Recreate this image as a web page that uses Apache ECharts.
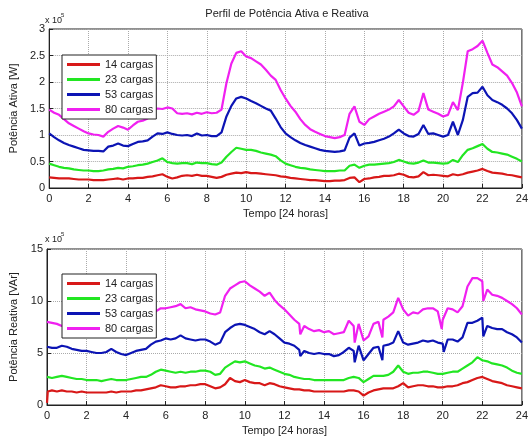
<!DOCTYPE html>
<html>
	<head>
		<meta charset="utf-8">
		<title>Perfil de Potência</title>
		<script src="https://cdn.jsdelivr.net/npm/echarts@6/dist/echarts.min.js"></script>
	</head>
	<body style="margin:0">
		<div id="main" style="width: 531px; height: 439px;"></div>
		<script>
			var nomes = ['14 cargas', '23 cargas', '53 cargas', '80 cargas'];
			var cores = ['#d81818', '#22e622', '#0c14b4', '#f020f0'];
			var passo = 0.25; // amostras a cada 15 min

			// Potência ativa (x 10^5 W)
			var pa14 = [0.20,0.19,0.18,0.18,0.18,0.17,0.16,0.16, 0.16,0.15,0.15,0.15,0.16,0.17,0.18,0.16,
				0.18,0.18,0.19,0.19,0.21,0.22,0.24,0.26, 0.21,0.18,0.20,0.23,0.24,0.23,0.25,0.23,
				0.23,0.21,0.19,0.21,0.25,0.27,0.29,0.28, 0.30,0.28,0.28,0.27,0.26,0.25,0.24,0.22,
				0.21,0.19,0.18,0.17,0.16,0.15,0.15,0.14, 0.13,0.13,0.14,0.14,0.15,0.19,0.20,0.11,
				0.17,0.18,0.20,0.21,0.23,0.23,0.24,0.27, 0.25,0.21,0.20,0.22,0.30,0.24,0.25,0.24,
				0.23,0.22,0.26,0.24,0.26,0.29,0.31,0.33, 0.36,0.32,0.29,0.28,0.27,0.25,0.24,0.22, 0.20];
			var pa23 = [0.46,0.43,0.40,0.38,0.37,0.35,0.34,0.33, 0.33,0.32,0.32,0.33,0.35,0.36,0.38,0.37,
				0.40,0.41,0.43,0.44,0.46,0.49,0.52,0.56, 0.49,0.47,0.46,0.47,0.47,0.45,0.48,0.47,
				0.47,0.45,0.44,0.48,0.59,0.68,0.76,0.74, 0.72,0.72,0.70,0.67,0.65,0.63,0.60,0.52,
				0.46,0.43,0.40,0.38,0.37,0.35,0.34,0.33, 0.32,0.32,0.32,0.33,0.33,0.42,0.44,0.38,
				0.42,0.44,0.44,0.45,0.46,0.47,0.49,0.53, 0.50,0.47,0.46,0.48,0.52,0.48,0.48,0.47,
				0.46,0.47,0.53,0.49,0.62,0.72,0.75,0.79, 0.83,0.74,0.68,0.67,0.65,0.63,0.59,0.55, 0.50];
			var pa53 = [1.03,0.96,0.90,0.85,0.81,0.78,0.75,0.72, 0.71,0.70,0.70,0.69,0.78,0.80,0.84,0.80,
				0.79,0.83,0.87,0.88,0.90,0.97,1.03,1.02, 1.05,1.02,1.00,0.99,1.00,0.98,1.03,0.99,
				1.00,0.98,0.98,1.05,1.35,1.55,1.69,1.72, 1.69,1.64,1.60,1.55,1.50,1.46,1.31,1.15,
				1.03,0.96,0.90,0.85,0.81,0.78,0.75,0.72, 0.70,0.69,0.68,0.69,0.71,0.95,1.03,0.80,
				0.84,0.85,0.87,0.90,0.93,0.97,1.03,1.10, 1.03,0.98,0.97,1.02,1.19,1.02,1.03,1.00,
				0.97,1.00,1.25,1.00,1.28,1.72,1.79,1.80, 1.91,1.75,1.66,1.62,1.57,1.50,1.41,1.28, 1.12];
			var pa80 = [1.48,1.42,1.38,1.30,1.22,1.17,1.12,1.07, 1.03,1.01,1.00,0.97,1.06,1.12,1.17,1.14,
				1.10,1.18,1.25,1.27,1.31,1.47,1.50,1.49, 1.52,1.50,1.41,1.40,1.41,1.39,1.42,1.40,
				1.43,1.41,1.42,1.48,1.98,2.35,2.55,2.58, 2.48,2.45,2.39,2.33,2.23,2.12,2.04,1.85,
				1.69,1.55,1.44,1.30,1.19,1.11,1.06,1.02, 0.98,0.96,0.94,0.96,1.00,1.40,1.54,1.25,
				1.19,1.30,1.35,1.40,1.44,1.48,1.54,1.66, 1.54,1.42,1.38,1.45,1.79,1.48,1.44,1.40,
				1.35,1.38,1.62,1.47,1.98,2.58,2.62,2.68, 2.78,2.55,2.33,2.28,2.20,2.12,1.98,1.80, 1.54];

			// Potência reativa (x 10^5 VAr)
			var qr14 = [0.2,1.4,1.3,1.4,1.3,1.3,1.2,1.3, 1.2,1.2,1.2,1.2,1.2,1.3,1.2,1.3,
				1.3,1.3,1.4,1.4,1.5,1.6,1.7,1.9, 1.8,1.7,1.7,1.8,1.8,1.9,1.9,2.0,
				2.0,1.8,1.6,1.7,2.0,2.6,2.3,2.2, 2.4,2.2,2.1,2.1,1.9,2.1,2.0,1.8,
				1.7,1.6,1.5,1.5,1.4,1.4,1.3,1.3, 1.3,1.3,1.3,1.3,1.3,1.4,1.4,1.3,
				0.9,1.2,1.4,1.5,1.6,1.6,1.6,1.8, 2.1,1.7,1.8,1.9,1.9,1.8,1.8,1.7,
				1.7,1.8,1.8,1.9,2.1,2.2,2.4,2.6, 2.7,2.5,2.3,2.2,2.1,1.9,1.8,1.7, 1.6];
			var qr23 = [2.7,2.6,2.7,2.8,2.7,2.6,2.5,2.5, 2.4,2.4,2.4,2.3,2.4,2.5,2.4,2.4,
				2.4,2.5,2.6,2.7,2.7,2.9,3.2,3.4, 3.3,3.2,3.1,3.2,3.1,3.2,3.2,3.3,
				3.3,3.2,2.9,3.0,3.6,3.9,4.2,4.1, 4.2,4.0,3.8,3.7,3.5,3.6,3.4,3.2,
				3.0,2.9,2.7,2.6,2.5,2.5,2.4,2.4, 2.4,2.4,2.4,2.4,2.4,2.6,2.7,2.6,
				2.2,2.5,2.8,2.8,2.8,2.9,3.2,3.8, 3.2,3.0,3.1,3.1,3.2,3.2,3.1,3.0,
				3.0,3.1,3.2,3.2,3.5,3.8,4.1,4.6, 4.3,4.2,4.0,3.9,3.8,3.6,3.3,3.1, 3.0];
			var qr53 = [5.6,5.5,5.5,5.7,5.6,5.4,5.3,5.2, 5.2,5.1,5.0,5.0,5.1,5.4,5.1,4.9,
				4.8,5.0,5.2,5.3,5.4,5.8,6.1,6.2, 6.4,6.3,6.4,6.7,6.4,6.3,6.2,6.3,
				6.3,6.1,5.8,6.0,7.0,7.4,7.7,7.8, 7.7,7.5,7.3,7.0,6.8,7.1,6.8,6.4,
				6.0,5.9,5.7,5.3,5.2,5.0,4.9,5.0, 4.9,4.9,4.7,4.8,5.1,5.5,5.2,5.7,
				4.3,4.9,5.5,5.6,5.7,5.8,6.0,7.1, 6.0,5.8,5.9,6.0,6.2,6.1,6.2,6.0,
				5.9,6.3,6.3,6.1,6.5,7.9,7.9,8.1, 8.4,7.6,7.4,7.3,7.3,7.0,6.8,6.5, 6.0];
			var qr80 = [8.0,7.9,7.8,7.6,7.8,7.7,7.8,7.9, 7.9,8.0,8.1,8.0,8.2,8.4,8.3,8.4,
				8.5,8.6,8.7,8.8,8.8,8.9,9.0,9.3, 9.3,9.4,9.5,9.7,9.3,9.4,9.2,9.1,
				9.0,8.8,8.7,8.9,10.5,11.2,11.5,11.8, 11.9,11.5,11.2,10.9,10.5,10.8,10.1,9.6,
				9.2,8.7,8.2,7.8,7.6,7.3,7.1,7.2, 7.0,7.1,6.8,6.9,7.0,8.1,7.6,7.8,
				6.2,6.6,7.8,8.0,8.2,8.5,8.9,10.3, 9.2,8.6,8.9,8.8,9.2,9.3,9.3,9.0,
				8.2,9.3,9.2,8.9,9.5,11.4,12.2,12.2, 11.9,11.1,10.6,10.5,10.3,10.0,9.7,9.3, 8.7];

			// picos estreitos [hora, valor]
			var picos14 = [[0.04, 1.3]];
			var picos53 = [[12.8, 4.7], [15.55, 4.1], [16.95, 4.3], [20.05, 5.1], [22.05, 6.6]];
			var picos80 = [[12.8, 6.8], [15.55, 6.0], [16.95, 6.5], [19.95, 7.3], [22.05, 10.0]];

			function monta(base, picos) {
				var pts = base.map(function (v, i) { return [i * passo, v]; });
				if (picos) pts = pts.concat(picos);
				return pts.sort(function (a, b) { return a[0] - b[0]; });
			}

			var fonte = 'Liberation Sans';
			function eixoX(idx) {
				return {
					type: 'value', gridIndex: idx, min: 0, max: 24, interval: 2,
					name: 'Tempo [24 horas]', nameLocation: 'middle', nameGap: 20,
					nameTextStyle: { color: '#222', fontSize: 11, fontFamily: fonte },
					axisLine: { lineStyle: { color: '#222' } },
					axisTick: { inside: true, length: 4, lineStyle: { color: '#222' } },
					axisLabel: { color: '#222', fontSize: 11, fontFamily: fonte, margin: 5 },
					splitLine: { show: true, lineStyle: { color: '#aaa', type: 'dotted' } }
				};
			}
			function eixoY(idx, nome, max, intervalo) {
				return {
					type: 'value', gridIndex: idx, min: 0, max: max, interval: intervalo,
					name: nome, nameLocation: 'middle', nameGap: 28,
					nameTextStyle: { color: '#222', fontSize: 11, fontFamily: fonte },
					axisLine: { show: true, lineStyle: { color: '#222' } },
					axisTick: { show: true, inside: true, length: 4, lineStyle: { color: '#222' } },
					axisLabel: { color: '#222', fontSize: 11, fontFamily: fonte, margin: 4 },
					splitLine: { show: true, lineStyle: { color: '#aaa', type: 'dotted' } }
				};
			}
			function legenda(topo) {
				return {
					data: nomes, orient: 'vertical', left: 62, top: topo,
					backgroundColor: '#fff', borderColor: '#222', borderWidth: 1,
					padding: [2, 3, 2, 5], itemGap: 0, icon: 'rect',
					itemWidth: 33, itemHeight: 3,
					textStyle: { color: '#222', fontSize: 11, fontFamily: fonte, lineHeight: 15 }
				};
			}

			var ativa = [pa14, pa23, pa53, pa80];
			var reativa = [monta(qr14, picos14), monta(qr23), monta(qr53, picos53), monta(qr80, picos80)];
			var series = [];
			nomes.forEach(function (n, i) {
				series.push({ name: n, type: 'line', xAxisIndex: 0, yAxisIndex: 0, showSymbol: false,
					lineStyle: { width: 2.2, color: cores[i] }, itemStyle: { color: cores[i] },
					data: monta(ativa[i]) });
			});
			nomes.forEach(function (n, i) {
				series.push({ name: n, type: 'line', xAxisIndex: 1, yAxisIndex: 1, showSymbol: false,
					lineStyle: { width: 2.2, color: cores[i] }, itemStyle: { color: cores[i] },
					data: reativa[i] });
			});

			var mychart = echarts.init(document.getElementById('main'));
			var option = {
				backgroundColor: '#fff',
				animation: false,
				title: {
					text: 'Perfil de Potência Ativa e Reativa', left: 282, textAlign: 'center', top: 3,
					textStyle: { color: '#222', fontSize: 11, fontWeight: 'normal', fontFamily: fonte }
				},
				grid: [
					{ left: 45, right: 7, top: 29, height: 159, show: true, borderColor: '#222', borderWidth: 1 },
					{ left: 45, right: 7, top: 249, height: 156, show: true, borderColor: '#222', borderWidth: 1 }
				],
				xAxis: [eixoX(0), eixoX(1)],
				yAxis: [eixoY(0, 'Potência Ativa [W]', 3, 0.5), eixoY(1, 'Potência Reativa [VAr]', 15, 5)],
				legend: [legenda(55), legenda(274)],
				graphic: [
					{ type: 'text', left: 45, top: 16, style: { text: 'x 10', fill: '#222', font: '9px Liberation Sans' } },
					{ type: 'text', left: 61, top: 12, style: { text: '5', fill: '#222', font: '6px Liberation Sans' } },
					{ type: 'text', left: 45, top: 235, style: { text: 'x 10', fill: '#222', font: '9px Liberation Sans' } },
					{ type: 'text', left: 61, top: 231, style: { text: '5', fill: '#222', font: '6px Liberation Sans' } }
				],
				series: series
			};
			mychart.setOption(option);
		</script>
	</body>
</html>
